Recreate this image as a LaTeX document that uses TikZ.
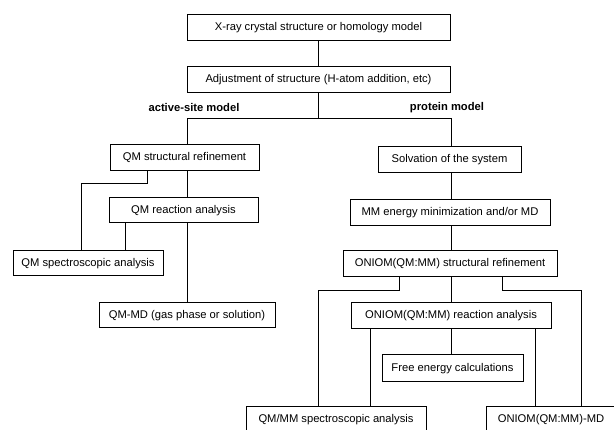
\documentclass[tikz,border=0pt]{standalone}
\usepackage{fontspec}
\setmainfont{Liberation Sans}
\usepackage{tikz}
\tikzstyle{blk} = [rectangle, draw=black, line width=1pt, minimum height=26pt, inner sep=0pt, font=\fontsize{11.2}{13}\selectfont]
\tikzstyle{lbl} = [font=\fontsize{11.2}{13}\selectfont\bfseries]
\tikzstyle{con} = [-, line width=1pt]

\begin{document}
\begin{tikzpicture}[x=1pt, y=-1pt]
\fill [white] (0, 0) rectangle (614, 430);
\useasboundingbox (0, 0) rectangle (614, 430);
\node [blk, minimum width=263pt] (XR) at (318.5, 28) {X-ray crystal structure or homology model};
\node [blk, minimum width=263pt] (ADJ) at (318.5, 80) {Adjustment of structure (H-atom addition, etc)};
\node [lbl] (AS) at (194, 108) {active-site model};
\node [lbl] (PM) at (447, 108) {protein model};
\node [blk, minimum width=149pt] (QMS) at (184.5, 158) {QM structural refinement};
\node [blk, minimum width=143pt] (SOL) at (449.5, 159.5) {Solvation of the system};
\node [blk, minimum width=149pt, minimum height=25pt] (QMR) at (183.5, 210.5) {QM reaction analysis};
\node [blk, minimum width=200pt] (MME) at (450, 212.5) {MM energy minimization and/or MD};
\node [blk, minimum width=150pt, minimum height=25pt] (QMSP) at (88, 263.5) {QM spectroscopic analysis};
\node [blk, minimum width=214pt] (ONS) at (450, 264) {ONIOM(QM:MM) structural refinement};
\node [blk, minimum width=176pt, minimum height=25pt] (QMMD) at (187, 315.5) {QM-MD (gas phase or solution)};
\node [blk, minimum width=200pt] (ONR) at (451, 316) {ONIOM(QM:MM) reaction analysis};
\node [blk, minimum width=141pt, minimum height=27pt] (FEC) at (452.5, 368.5) {Free energy calculations};
\node [blk, minimum width=180pt] (QMMM) at (336, 420) {QM/MM spectroscopic analysis};
\node [blk, minimum width=130pt] (ONMD) at (551, 420) {ONIOM(QM:MM)-MD};
\coordinate (sp) at (318.5, 119);
\coordinate (lc) at (187, 119);
\coordinate (rc) at (451, 119);
\coordinate (la) at (147, 184);
\coordinate (lb) at (81, 184);
\coordinate (lq) at (125, 251);
\coordinate (ra) at (399, 291);
\coordinate (rb) at (318, 291);
\coordinate (rd) at (502, 291);
\coordinate (re) at (581, 291);
\coordinate (rq) at (370, 329);
\coordinate (rm) at (535, 329);
\draw [con] (XR) -- (ADJ);
\draw [con] (ADJ) -- (sp);
\draw [con] (lc |- QMS.north) -- (lc) -- (rc) -- (rc |- SOL.north);
\draw [con] (la |- QMS.south) -- (la) -- (lb) -- (lb |- QMSP.north);
\draw [con] (lc |- QMS.south) -- (lc |- QMR.north);
\draw [con] (lq |- QMR.south) -- (lq |- QMSP.north);
\draw [con] (lc |- QMR.south) -- (lc |- QMMD.north);
\draw [con] (rc |- SOL.south) -- (rc |- MME.north);
\draw [con] (rc |- MME.south) -- (rc |- ONS.north);
\draw [con] (rc |- ONS.south) -- (rc |- ONR.north);
\draw [con] (ra |- ONS.south) -- (ra) -- (rb) -- (rb |- QMMM.north);
\draw [con] (rd |- ONS.south) -- (rd) -- (re) -- (re |- ONMD.north);
\draw [con] (rq |- ONR.south) -- (rq |- QMMM.north);
\draw [con] (rc |- ONR.south) -- (rc |- FEC.north);
\draw [con] (rm |- ONR.south) -- (rm |- ONMD.north);
\end{tikzpicture}
\end{document}
